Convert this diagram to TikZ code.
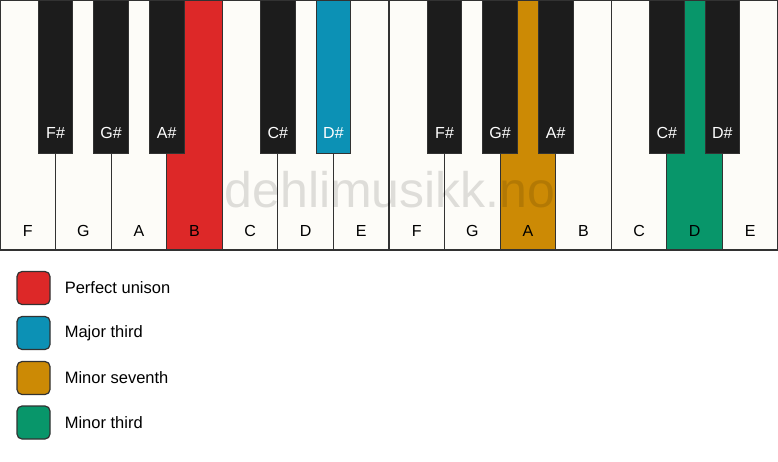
\documentclass[tikz,border=0pt]{standalone}
\usepackage{fontspec}
\setmainfont{Liberation Sans}
\usepackage{tikz}
\usetikzlibrary{positioning}
\definecolor{keywhite}{RGB}{253,252,248}
\definecolor{keyblack}{RGB}{28,28,28}
\definecolor{outline}{RGB}{50,50,50}
\definecolor{unison}{RGB}{221,40,40}
\definecolor{majthird}{RGB}{12,145,181}
\definecolor{minseventh}{RGB}{204,138,5}
\definecolor{minthird}{RGB}{8,150,106}
\tikzset{
  x=1pt, y=-1pt,
  whitekey/.style={draw=outline, line width=1.2pt, anchor=north west,
    minimum width=55.57pt, minimum height=250pt, inner sep=0pt, outer sep=0pt},
  blackkey/.style={draw=outline, line width=0.8pt, anchor=north,
    minimum width=34.5pt, minimum height=153pt, inner sep=0pt, outer sep=0pt},
  keylabel/.style={anchor=base, inner sep=0pt, font=\fontsize{16}{19}\selectfont},
  swatch/.style={draw=outline, line width=1.2pt, rounded corners=5pt,
    minimum size=33pt, inner sep=0pt},
  legendtext/.style={inner sep=0pt, font=\fontsize{16.5}{20}\selectfont},
  watermark/.style={text=black, text opacity=0.12, inner sep=0pt, anchor=base,
    font=\fontsize{50}{60}\selectfont},
}
\begin{document}
\begin{tikzpicture}
  \useasboundingbox[fill=white] (0,0) rectangle (778,461);

  % white keys
  \foreach \n/\c [count=\i from 0] in {F/keywhite, G/keywhite, A/keywhite, B/unison,
      C/keywhite, D/keywhite, E/keywhite, F/keywhite, G/keywhite, A/minseventh,
      B/keywhite, C/keywhite, D/minthird, E/keywhite} {
    \node[whitekey, fill=\c] (w\i) at (\i*55.57, 0) {};
    \node[keylabel] (lw\i) at ([yshift=14pt]w\i.south) {\n};
  }

  \node[watermark] (wm) at (390, 207) {dehlimusikk.no};

  % black keys
  \foreach \n/\b/\c in {F\#/1/keyblack, G\#/2/keyblack, A\#/3/keyblack,
      C\#/5/keyblack, D\#/6/majthird, F\#/8/keyblack, G\#/9/keyblack,
      A\#/10/keyblack, C\#/12/keyblack, D\#/13/keyblack} {
    \node[blackkey, fill=\c] (b\b) at (w\b.north west) {};
    \node[keylabel, text=white] (lb\b) at ([yshift=15pt]b\b.south) {\n};
  }

  % legend
  \node[swatch, fill=unison] (s1) at (33.5, 288) {};
  \node[swatch, fill=majthird] (s2) at (33.5, 333) {};
  \node[swatch, fill=minseventh] (s3) at (33.5, 378) {};
  \node[swatch, fill=minthird] (s4) at (33.5, 422.5) {};
  \node[legendtext, right=14pt of s1] (t1) {Perfect unison};
  \node[legendtext, right=14pt of s2] (t2) {Major third};
  \node[legendtext, right=14pt of s3] (t3) {Minor seventh};
  \node[legendtext, right=14pt of s4] (t4) {Minor third};
\end{tikzpicture}
\end{document}
